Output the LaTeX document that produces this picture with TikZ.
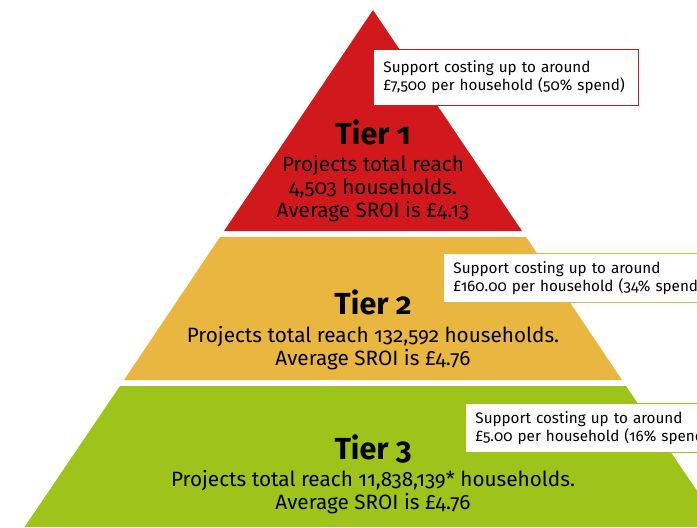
\documentclass[tikz,border=0pt]{standalone}
\usepackage{fontspec}
\setmainfont{Fira Sans}[Numbers=OldStyle]
\usetikzlibrary{positioning}

\definecolor{tierred}{HTML}{D1191D}
\definecolor{tierorange}{HTML}{E9B73F}
\definecolor{tiergreen}{HTML}{9EC41B}

\tikzset{
  tiertitle/.style={font=\fontsize{26}{28}\selectfont\bfseries,inner sep=0pt},
  tiertext/.style={font=\fontsize{17.7}{19.6}\selectfont,align=center,inner sep=0pt},
  costbox/.style={draw=#1,fill=white,line width=0.8pt,anchor=north west,
    align=left,text width=9cm,inner xsep=0.3cm,inner ysep=0pt,
    font=\fontsize{13}{15.3}\selectfont}
}

\begin{document}
\begin{tikzpicture}[x=0.03cm,y=-0.03cm]

% ---- canvas ----
\clip (0,0) rectangle (697,527);
\fill[white] (0,0) rectangle (697,527);

% ---- the three layers of the pyramid (top to bottom) ----
\fill[tierred]    (373,10) -- (522,231) -- (224,231) -- cycle;
\fill[tierorange] (220,237) -- (526,237) -- (622,380) -- (124,380) -- cycle;
\fill[tiergreen]  (120,386) -- (626,386) -- (721.5,527) -- (24.5,527) -- cycle;

% ---- tier 1 ----
\node[tiertitle] (t1) at (373,132) {Tier 1};
\node[tiertext] (t1text) at (373,189)
  {Projects total reach\\4,503 households.\\Average SROI is £4.13};

% ---- tier 2 ----
\node[tiertitle] (t2) at (373,302) {Tier 2};
\node[tiertext] (t2text) at (373,348)
  {Projects total reach 132,592 households.\\Average SROI is £4.76};

% ---- tier 3 ----
\node[tiertitle] (t3) at (373,449) {Tier 3};
\node[tiertext] (t3text) at (373,492.5)
  {Projects total reach 11,838,139* households.\\Average SROI is £4.76};

% ---- the spend boxes on the right ----
\node[costbox=tierred,text width=7.35cm,minimum height=1.68cm] (c1) at (373,49)
  {Support costing up to around\\£7,500 per household (50\% spend)};
\node[costbox=tierorange,minimum height=1.47cm] (c2) at (443,253)
  {Support costing up to around\\£160.00 per household (34\% spend)};
\node[costbox=tiergreen,minimum height=1.47cm] (c3) at (465,403)
  {Support costing up to around\\£5.00 per household (16\% spend)};

\end{tikzpicture}
\end{document}
